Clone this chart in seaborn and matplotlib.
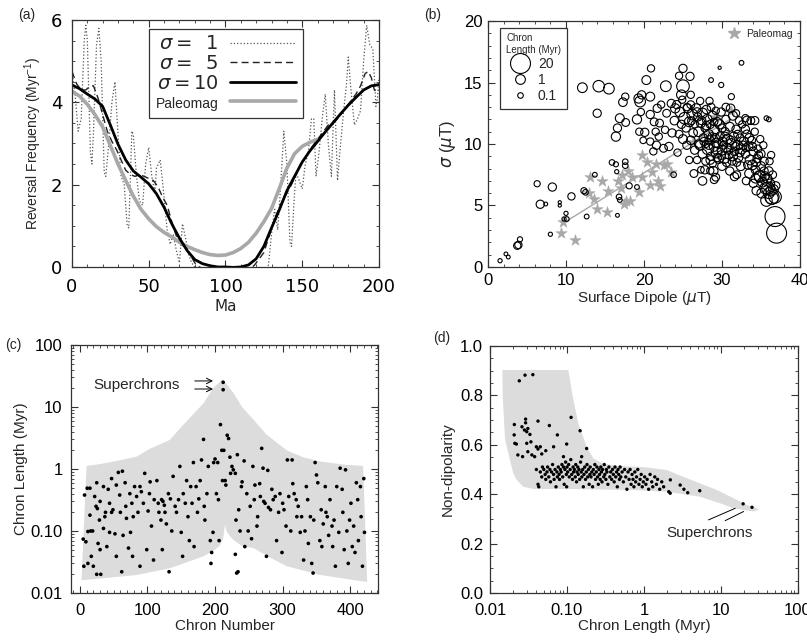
import matplotlib
matplotlib.use("Agg")
import numpy as np
import pandas as pd
import matplotlib.pyplot as plt
import seaborn as sns
from matplotlib.lines import Line2D
from matplotlib.ticker import MultipleLocator, FixedLocator, FixedFormatter, LogLocator, NullFormatter, FormatStrFormatter

# ---------------- panel (a): reversal frequency vs age
ma_s1 = [0, 2, 4, 6, 8, 9, 10, 12, 13, 14, 16, 17.5, 19, 21, 22, 24, 26, 28, 30, 32,
         34, 36, 37, 39, 40, 42, 44, 46, 48, 50, 52, 54, 55, 57.5, 60, 62, 64, 66, 68, 70,
         72, 74, 76, 78, 80, 82, 125, 128, 130, 132, 134, 136, 138, 140, 142, 143, 145, 146,
         148, 150, 152, 154, 156, 157.5, 159, 161, 163, 165, 167, 169, 171, 173, 175, 177,
         179, 180, 182, 184, 186, 188, 190, 192, 194, 196, 198, 199, 200]
rf_s1 = [4.75, 4.2, 3.3, 3.6, 5.5, 5.87, 5.5, 2.8, 2.5, 3.3, 5.4, 5.8, 5.0, 2.3, 2.2, 3.0, 4.0, 4.5, 3.2, 2.2,
         2.0, 1.0, 0.95, 3.3, 3.2, 2.2, 1.6, 1.5, 2.5, 2.9, 2.2, 1.8, 2.4, 2.6, 1.7, 0.9, 0.55, 0.8, 0.4, 0.1,
         1.05, 0.7, 0.3, 0.1, 0.0, -0.2, -0.2, 0.05, 0.8, 1.4, 0.9, 2.0, 3.3, 2.5, 0.6, 0.5, 1.8, 2.3,
         2.1, 1.9, 2.5, 2.8, 3.6, 3.6, 2.2, 2.8, 3.6, 4.2, 3.0, 2.2, 4.3, 2.1, 3.0, 3.8,
         4.5, 5.1, 4.2, 3.45, 3.6, 3.8, 5.0, 5.87, 5.4, 5.3, 3.9, 4.1, 4.6]

ma_s5 = [0, 3, 6, 9, 12, 14, 17, 20, 23, 26, 29, 32, 35, 38, 41, 44, 47, 50, 53, 56,
         59, 62, 65, 68, 71, 74, 77, 80, 83, 86, 116, 119, 122, 125, 128, 131, 134, 137, 140, 143,
         146, 149, 152, 155, 158, 161, 164, 167, 170, 173, 176, 179, 182, 185, 188, 191, 193, 195, 197, 199, 200]
rf_s5 = [4.75, 4.45, 4.3, 4.3, 4.4, 4.4, 4.1, 3.7, 3.3, 3.05, 2.85, 2.6, 2.35, 2.25, 2.2, 2.25, 2.2, 2.15, 2.1, 1.95,
         1.7, 1.5, 1.1, 0.75, 0.55, 0.45, 0.3, 0.1, 0.0, -0.05, -0.05, 0.05, 0.2, 0.35, 0.7, 1.05, 1.35, 1.6, 1.8, 2.0,
         2.25, 2.5, 2.65, 2.85, 3.0, 3.15, 3.3, 3.45, 3.5, 3.6, 3.75, 3.9, 4.05, 4.2, 4.4, 4.7, 4.75, 4.6, 4.3, 4.25, 4.3]

ma_s10 = list(range(0, 201, 5))
rf_s10 = [4.42, 4.33, 4.2, 4.08, 3.9, 3.45, 2.98, 2.6, 2.33, 2.18, 2.02, 1.78, 1.45, 1.05, 0.7, 0.4, 0.18, 0.08, 0.03, 0.0,
          0.0, -0.01, 0.0, 0.05, 0.2, 0.5, 0.95, 1.38, 1.85, 2.2, 2.55, 2.82, 3.05, 3.28, 3.5, 3.72, 3.93, 4.12, 4.3, 4.4, 4.43]

ma_pal = list(range(0, 161, 5))
rf_pal = [4.27, 4.15, 3.95, 3.7, 3.4, 2.95, 2.5, 2.1, 1.72, 1.4, 1.17, 0.98, 0.84, 0.73, 0.6, 0.5, 0.42, 0.35, 0.3, 0.28,
          0.29, 0.35, 0.45, 0.6, 0.82, 1.1, 1.42, 1.9, 2.4, 2.75, 2.93, 3.03, 3.1]

# ---------------- panel (b): sigma vs surface dipole
b_x = [12.1, 14.2, 15.5, 14.0, 17.6, 17.3, 19.3, 19.5, 19.7, 19.6, 16.9, 17.65, 16.6, 16.4, 19.1, 19.4, 19.9,
       15.9, 16.4, 17.6, 17.6, 13.7, 16.5, 12.3, 12.5, 18.1, 19.1, 16.8, 16.9, 16.6, 10.7, 8.25, 6.3, 6.7, 7.4,
       9.2, 9.2, 10.0, 10.1, 9.75, 12.65, 8.0, 3.9, 3.75, 4.1, 2.3, 2.6, 1.55,
       20.9, 25.0, 32.5, 29.7, 28.6, 29.9, 24.5, 25.9, 22.8, 20.3, 20.8, 25.0, 24.8, 31.2, 35.7, 34.2, 33.2,
       20.8, 22.0, 22.7, 21.5, 20.1, 20.8, 22.5, 21.2, 21.6, 23.8, 27.3, 28.5, 29.0, 31.9, 31.6,
       24.2, 24.6, 24.9, 25.2, 25.4, 25.6, 25.8, 26.0, 26.2, 26.3, 26.5, 26.7, 26.9, 27.0, 27.2, 27.3, 27.5,
       27.6, 27.8, 28.0, 28.1, 28.3, 28.5, 28.6, 28.8, 29.0, 29.2, 29.4, 25.0, 25.5, 24.5, 23.9, 24.0, 23.5,
       23.6, 22.9, 22.2, 21.7, 21.3, 21.9, 23.2, 24.3,
       26.5, 26.8, 27.2, 27.5, 27.7, 27.9, 28.2, 28.4, 28.6, 28.8, 29.0, 29.1, 29.3, 29.5, 29.6, 29.8, 30.0,
       30.1, 30.3, 30.4, 30.6, 30.7, 30.9, 31.0, 31.2, 31.3, 31.5, 31.6, 31.8, 32.0, 32.1, 32.3, 32.5, 32.6,
       32.8, 33.0, 33.2, 33.4, 33.6, 33.8, 34.0, 34.2, 28.0, 29.7, 30.5, 31.4, 32.2, 33.0, 29.9, 31.1, 27.0,
       26.0, 28.9, 27.8, 30.0, 31.0, 32.4, 25.8, 26.4, 27.5, 29.2,
       33.5, 33.9, 34.3, 34.5, 34.8, 35.0, 35.2, 35.4, 35.6, 35.8, 36.0, 36.2, 36.4, 36.6, 36.8, 35.0, 34.6,
       35.3, 33.9, 36.1, 36.5, 34.0, 35.7, 36.9, 35.1, 34.4, 33.1, 36.3, 34.9, 36.0, 33.7,
       28.3, 28.7, 29.2, 29.4, 29.9, 30.2, 30.4, 30.8, 31.1, 31.4, 31.7, 32.0, 32.3, 32.7, 33.1, 33.5, 30.0,
       29.0, 27.4, 26.1, 26.8, 25.5, 24.8, 27.9, 28.5, 30.6, 31.9, 33.3, 34.4, 34.7, 33.0, 31.8, 30.5, 28.4,
       26.0, 35.4, 36.0, 34.3, 35.5, 36.3,
       36.8, 37.0, 36.4, 35.9, 35.7, 34.9]
b_y = [14.58, 14.7, 14.5, 12.5, 13.85, 13.4, 13.7, 13.45, 14.0, 12.6, 12.1, 11.75, 11.3, 10.6, 12.0, 11.0, 10.3,
       8.5, 8.35, 8.56, 8.24, 7.5, 7.75, 6.2, 6.07, 6.6, 6.5, 5.7, 5.45, 4.2, 5.74, 6.5, 6.77, 5.1, 5.12,
       5.26, 5.0, 4.36, 3.9, 3.9, 4.1, 2.66, 1.79, 1.73, 2.25, 1.06, 0.81, 0.51,
       16.15, 16.15, 16.6, 16.2, 15.2, 14.8, 15.55, 15.5, 14.7, 15.2, 13.85, 14.7, 14.0, 13.85, 12.1, 11.9, 11.9,
       12.4, 11.7, 11.15, 11.0, 10.95, 10.2, 9.65, 9.4, 9.9, 7.5, 7.9, 7.83, 7.1, 7.5, 7.35,
       13.2, 12.6, 13.6, 12.1, 11.3, 12.9, 11.8, 13.2, 12.4, 10.9, 11.6, 12.9, 12.2, 11.0, 13.5, 11.7, 12.5,
       10.5, 11.3, 12.8, 12.0, 10.8, 11.6, 13.0, 12.3, 11.1, 12.7, 11.8, 10.4, 9.9, 10.8, 11.9, 12.9, 13.3,
       10.9, 12.5, 13.2, 12.9, 11.8, 10.6, 9.8, 9.3,
       9.5, 8.7, 9.9, 9.2, 10.2, 8.6, 9.6, 10.3, 9.0, 8.4, 9.8, 10.5, 9.3, 10.0, 8.8, 10.7, 9.5,
       10.2, 8.9, 11.0, 9.7, 10.4, 9.1, 11.4, 10.0, 8.6, 10.6, 9.4, 11.2, 9.9, 8.9, 10.5, 9.6, 11.6,
       10.2, 9.2, 10.8, 9.8, 8.7, 10.3, 9.4, 11.0, 11.5, 11.6, 12.0, 12.3, 11.9, 12.1, 12.6, 12.9, 10.0,
       10.3, 7.8, 7.9, 8.2, 7.8, 8.2, 8.7, 7.6, 7.0, 7.3,
       7.6, 8.3, 7.9, 8.8, 7.4, 8.2, 6.9, 7.8, 6.4, 7.2, 6.0, 6.8, 5.6, 6.3, 5.7, 9.2, 9.6,
       9.9, 9.8, 8.6, 7.5, 6.8, 5.4, 6.6, 6.0, 6.2, 7.0, 9.1, 10.4, 12.0, 11.9,
       9.9, 10.6, 10.1, 8.9, 9.1, 9.9, 10.6, 9.5, 10.3, 9.0, 9.8, 10.8, 9.3, 9.9, 9.7, 10.5, 11.3,
       11.8, 11.9, 11.9, 12.6, 13.0, 11.6, 10.0, 8.7, 8.5, 8.5, 8.3, 8.5, 9.1, 11.2, 12.5, 13.0, 13.5,
       14.0, 8.6, 7.8, 7.2, 7.4, 6.2,
       4.1, 2.75, 5.7, 6.4, 7.1, 7.35]
b_len = [1, 2, 1.5, 0.5, 0.3, 0.6, 0.8, 1.5, 0.5, 0.3, 0.7, 0.4, 0.5, 0.8, 0.8, 0.3, 0.2,
         0.1, 0.07, 0.1, 0.1, 0.05, 0.03, 0.15, 0.1, 0.15, 0.05, 0.1, 0.05, 0.02, 0.3, 0.5, 0.15, 0.5, 0.02,
         0.01, 0.01, 0.03, 0.05, 0.03, 0.05, 0.03, 0.3, 0.3, 0.07, 0.02, 0.02, 0.03,
         0.3, 0.5, 0.05, 0.01, 0.05, 0.07, 0.3, 0.5, 1.5, 0.7, 0.7, 3, 1, 0.15, 0.05, 0.5, 0.7,
         0.5, 0.4, 0.3, 0.3, 0.5, 0.3, 0.4, 0.3, 0.5, 0.1, 0.2, 0.3, 0.4, 0.4, 0.5,
         0.5, 1, 0.3, 2, 0.5, 0.7, 1, 0.4, 1.5, 0.6, 0.3, 0.8, 0.5, 1, 0.3, 0.7, 1.2,
         0.5, 0.4, 0.6, 1, 0.8, 0.5, 0.4, 0.7, 1.5, 0.3, 0.6, 0.7, 0.5, 0.4, 0.6, 0.8, 0.5,
         0.5, 0.4, 0.3, 0.5, 0.4, 0.3, 0.5, 0.3,
         0.5, 0.3, 1, 0.7, 0.5, 0.4, 2, 0.8, 0.5, 0.3, 1, 0.7, 1.5, 0.5, 0.8, 0.4, 1,
         0.6, 2, 0.5, 0.8, 1, 0.5, 0.7, 1.5, 0.4, 0.8, 0.6, 0.5, 1, 0.7, 0.4, 1.2, 0.3,
         0.8, 0.6, 0.5, 0.7, 1, 0.4, 0.6, 0.3, 0.6, 0.8, 0.5, 0.7, 0.4, 0.3, 0.5, 0.6, 0.5,
         0.6, 0.8, 0.5, 0.6, 0.5, 0.7, 0.3, 0.4, 0.6, 0.4,
         0.8, 1, 0.6, 0.5, 1.5, 0.7, 1, 0.5, 2, 0.8, 1.5, 0.6, 3, 1, 3, 0.5, 0.4,
         0.3, 0.5, 0.3, 0.4, 0.5, 2, 0.5, 1, 0.6, 0.4, 0.3, 0.3, 0.05, 0.4,
         0.5, 0.4, 0.8, 0.5, 0.6, 0.4, 0.7, 0.5, 0.6, 0.8, 0.5, 0.4, 0.6, 0.5, 0.4, 0.6, 0.5,
         0.3, 0.5, 0.4, 0.6, 0.3, 0.5, 0.3, 0.6, 0.5, 0.4, 0.5, 0.6, 0.4, 0.5, 0.3, 0.4, 0.3,
         0.3, 0.5, 0.6, 0.8, 0.6, 1.2,
         20, 20, 5, 3, 2, 2]

star_x = [9.4, 9.6, 11.2, 13.1, 12.9, 13.6, 14.0, 14.6, 15.2, 15.4, 16.7, 17.1, 17.2, 17.4, 17.7, 17.9,
          18.2, 18.5, 19.4, 19.7, 19.7, 20.4, 20.8, 21.0, 21.6, 21.8, 22.0, 22.6, 22.9, 23.4, 26.3, 29.1, 31.2]
star_y = [2.8, 3.66, 2.2, 7.3, 6.0, 5.5, 4.7, 7.0, 4.5, 6.2, 7.0, 6.4, 7.5, 5.1, 5.4, 7.8,
          5.4, 7.3, 6.1, 7.3, 9.1, 8.5, 6.7, 7.75, 8.4, 7.0, 6.6, 8.3, 8.4, 7.7, 10.2, 12.2, 12.7]
fit_x = [10.0, 31.0]
fit_y = [3.7, 12.0]

legend_len = [20, 1, 0.1]

# ---------------- panel (c): chron length vs chron number
c_chron = [5, 9, 6, 7, 11, 15, 12, 16, 19, 15, 17, 12, 20, 22, 25, 24, 26, 30, 29, 27,
           25, 31, 30, 35, 37, 35, 38, 40, 42, 44, 47, 44, 47, 49, 52, 54, 54, 57, 59, 60,
           63, 64, 62, 67, 68, 69, 72, 74, 77, 75, 78, 79, 81, 84, 86, 89, 91, 89,
           94, 96, 99, 101, 103, 104, 106, 109, 110, 114, 116, 117, 120, 121, 122, 123, 125, 126,
           128, 131, 132, 134, 136, 138, 141, 143, 146, 148, 150, 152, 153, 156, 158, 160, 162, 164,
           166, 168, 169, 172, 174, 176, 178, 180, 183, 184, 185, 188,
           190, 193, 194, 195, 197, 198, 200, 202, 204, 205, 206, 208, 210, 211, 212, 212, 213, 215,
           216, 218, 220, 222, 223, 225, 227, 230, 231, 233, 235, 232, 234, 230, 237, 239, 240, 243, 244,
           247, 249, 252, 254, 256, 258, 259, 262, 263, 266, 267, 269, 271, 272, 274, 276, 278, 279,
           282, 284, 286, 289, 291, 294, 296, 299, 300, 302, 305, 307, 309, 312, 314, 315, 317, 320,
           321, 323, 326, 328, 331, 333, 335, 337, 338, 341, 343, 345, 346, 348, 350, 352, 355, 357,
           358, 360, 363, 364, 366, 368, 370, 373, 374, 376, 378, 380, 383, 385, 388, 389, 391, 393,
           395, 397, 399, 401, 403, 405, 407, 409, 411, 412, 415, 416, 418, 420, 421]
c_len = [0.074, 0.067, 0.027, 0.38, 0.49, 0.49, 0.098, 0.10, 0.10, 0.18, 0.039, 0.030, 0.027, 0.36, 0.60, 0.25, 0.23, 0.30, 0.15, 0.063,
         0.020, 0.020, 0.050, 0.52, 0.17, 0.11, 0.20, 0.056, 0.47, 0.28, 0.20, 0.095, 0.70, 0.22, 0.09, 0.039, 0.55, 0.88, 0.38, 0.20,
         0.92, 0.085, 0.022, 0.60, 0.25, 0.16, 0.053, 0.40, 0.28, 0.095, 0.039, 0.17, 0.52, 0.36, 0.20, 0.52, 0.43, 0.027,
         0.28, 0.85, 0.05, 0.21, 0.40, 0.62, 0.12, 0.034, 0.32, 0.65, 0.28, 0.20, 0.15, 0.32, 0.05, 0.30, 0.26, 0.20,
         0.13, 0.40, 0.022, 0.33, 0.10, 0.76, 0.25, 0.20, 0.32, 1.1, 0.095, 0.039, 0.40, 0.28, 0.65, 0.17, 0.07, 0.52,
         0.28, 1.27, 0.056, 0.52, 0.20, 0.33, 0.65, 1.4, 3.0, 0.25, 0.15, 0.40,
         1.1, 0.07, 0.03, 0.045, 0.095, 1.27, 1.45, 0.40, 1.27, 0.32, 0.07, 5.2, 2.0, 0.65, 25, 19, 2.0, 0.65,
         0.55, 3.5, 3.1, 1.55, 0.85, 1.1, 0.97, 0.85, 0.15, 1.7, 0.22, 0.021, 0.022, 0.042, 0.10, 0.52, 0.62, 1.35, 0.056,
         0.40, 0.10, 0.25, 0.075, 1.1, 0.32, 0.55, 0.12, 0.17, 0.58, 0.36, 2.15, 1.03, 0.30, 0.28, 0.039, 0.95, 0.24,
         0.22, 0.47, 0.32, 0.36, 0.07, 0.20, 0.40, 0.045, 0.28, 0.22, 0.12, 1.4, 0.36, 0.10, 1.4, 0.58, 0.40, 0.32,
         0.17, 0.25, 0.095, 0.17, 0.034, 0.10, 0.52, 0.32, 0.063, 0.17, 0.03, 0.021, 0.15, 1.27, 0.80, 0.60, 0.07, 0.22,
         0.056, 0.13, 0.52, 0.20, 0.17, 0.085, 0.32, 0.12, 0.056, 0.15, 0.027, 0.52, 0.095, 1.03, 0.47, 0.20, 0.05, 0.97,
         0.10, 0.03, 0.15, 0.28, 0.056, 0.12, 0.045, 0.60, 0.32, 0.07, 0.52, 0.17, 0.027, 0.70, 0.095]

c_up_x = [10, 30, 55, 84, 103, 133, 152, 183, 197, 211, 227, 240, 257, 276, 306, 330, 356, 390, 419]
c_up_y = [1.12, 1.2, 1.35, 1.58, 2.1, 2.94, 5.0, 11.5, 20, 28, 17, 10, 6.2, 3.6, 2.0, 1.55, 1.32, 1.18, 1.12]
c_lo_x = [2.5, 84, 133, 183, 200, 207, 212, 214, 215, 217, 221, 227, 240, 257, 280, 306, 356, 425]
c_lo_y = [0.016, 0.0195, 0.025, 0.039, 0.05, 0.058, 0.075, 0.11, 0.125, 0.1, 0.085, 0.072, 0.057, 0.053, 0.038, 0.027, 0.0195, 0.015]

# ---------------- panel (d): non-dipolarity vs chron length
d_len = [0.024, 0.0285, 0.036, 0.0207, 0.0206, 0.021, 0.022, 0.023, 0.0265, 0.026, 0.028, 0.029, 0.029, 0.030,
         0.031, 0.033, 0.030, 0.031, 0.034, 0.035, 0.038, 0.040, 0.042, 0.042, 0.045, 0.047, 0.053, 0.059,
         0.067, 0.075, 0.090, 0.099, 0.113, 0.148, 0.155, 0.18,
         0.040, 0.042, 0.043, 0.045, 0.047, 0.048, 0.050, 0.052, 0.053, 0.055, 0.056, 0.058, 0.060, 0.061, 0.063,
         0.065, 0.067, 0.068, 0.07, 0.072, 0.074, 0.075, 0.077, 0.079, 0.08, 0.082, 0.084, 0.086, 0.088, 0.09,
         0.092, 0.094, 0.096, 0.098, 0.099,
         0.10, 0.102, 0.105, 0.107, 0.11, 0.112, 0.115, 0.118, 0.12, 0.122, 0.125, 0.128, 0.13, 0.133, 0.135,
         0.138, 0.14, 0.143, 0.146, 0.15, 0.153, 0.156, 0.16, 0.163, 0.166, 0.17, 0.174, 0.178, 0.182, 0.186,
         0.19, 0.194, 0.198,
         0.20, 0.205, 0.21, 0.215, 0.22, 0.225, 0.23, 0.235, 0.24, 0.245, 0.25, 0.255, 0.26, 0.265, 0.27,
         0.275, 0.28, 0.285, 0.29, 0.30, 0.305, 0.31, 0.32, 0.325, 0.33, 0.34, 0.35, 0.36, 0.37, 0.38, 0.39,
         0.40, 0.41, 0.42, 0.43, 0.44, 0.45, 0.46, 0.47, 0.48, 0.49,
         0.50, 0.52, 0.54, 0.56, 0.58, 0.60, 0.62, 0.64, 0.66, 0.68, 0.70, 0.72, 0.74, 0.76, 0.78, 0.80,
         0.83, 0.86, 0.89, 0.92, 0.95, 0.98,
         1.02, 1.06, 1.1, 1.15, 1.2, 1.26, 1.3, 1.38, 1.45, 1.5, 1.6, 1.7, 1.8,
         2.19, 2.1, 2.2, 2.95, 3.3, 3.7, 5.3, 19.4, 25.3]
d_nd = [0.859, 0.882, 0.884, 0.682, 0.64, 0.606, 0.603, 0.559, 0.552, 0.673, 0.66, 0.704, 0.689, 0.653,
        0.666, 0.642, 0.606, 0.572, 0.612, 0.559, 0.552, 0.592, 0.583, 0.696, 0.592, 0.563, 0.576, 0.678,
        0.592, 0.64, 0.552, 0.603, 0.711, 0.657, 0.552, 0.585,
        0.50, 0.44, 0.43, 0.49, 0.47, 0.51, 0.50, 0.48, 0.46, 0.49, 0.51, 0.47, 0.50, 0.45, 0.49,
        0.52, 0.48, 0.46, 0.50, 0.43, 0.49, 0.47, 0.51, 0.48, 0.46, 0.50, 0.49, 0.52, 0.47, 0.51,
        0.44, 0.50, 0.53, 0.48, 0.43,
        0.51, 0.49, 0.52, 0.47, 0.50, 0.54, 0.48, 0.46, 0.51, 0.49, 0.50, 0.47, 0.52, 0.45, 0.49,
        0.51, 0.48, 0.50, 0.46, 0.53, 0.49, 0.47, 0.50, 0.43, 0.48, 0.51, 0.46, 0.49, 0.52, 0.47,
        0.50, 0.44, 0.48,
        0.51, 0.47, 0.49, 0.43, 0.50, 0.48, 0.52, 0.46, 0.49, 0.51, 0.47, 0.44, 0.50, 0.48, 0.46,
        0.51, 0.49, 0.45, 0.50, 0.47, 0.52, 0.48, 0.46, 0.50, 0.49, 0.44, 0.51, 0.47, 0.49, 0.46, 0.50,
        0.48, 0.45, 0.51, 0.47, 0.49, 0.43, 0.50, 0.48, 0.46, 0.51,
        0.47, 0.49, 0.45, 0.50, 0.47, 0.42, 0.49, 0.46, 0.50, 0.44, 0.48, 0.46, 0.43, 0.49, 0.45, 0.47,
        0.50, 0.44, 0.46, 0.48, 0.43, 0.45,
        0.47, 0.44, 0.46, 0.42, 0.48, 0.45, 0.43, 0.47, 0.44, 0.46, 0.42, 0.45, 0.43,
        0.404, 0.41, 0.458, 0.437, 0.42, 0.406, 0.414, 0.361, 0.347]

d_env_x = [0.0145, 0.104, 0.118, 0.14, 0.18, 0.22, 0.3, 0.44, 0.98, 1.98, 3.26, 8.85, 21.7, 29.3, 31,
           26.5, 14.5, 9.8, 5.3, 1.98, 0.73, 0.099, 0.037, 0.027, 0.022, 0.020, 0.0157, 0.0146]
d_env_y = [0.903, 0.903, 0.80, 0.687, 0.592, 0.545, 0.523, 0.515, 0.51, 0.498, 0.47, 0.417, 0.357, 0.343, 0.337,
           0.33, 0.343, 0.363, 0.39, 0.41, 0.417, 0.421, 0.421, 0.43, 0.46, 0.485, 0.62, 0.80]

# ---------------- style
sns.set_style("ticks")
plt.rcParams["font.family"] = ["Liberation Sans", "DejaVu Sans"]
plt.rcParams["mathtext.fontset"] = "dejavusans"
plt.rcParams["axes.linewidth"] = 0.9
plt.rcParams["axes.edgecolor"] = "#333333"

FILL = "#dcdcdc"
GREY = "#a8a8a8"

fig = plt.figure(figsize=(8.07, 6.41), dpi=100)
ax_a = fig.add_axes([0.0892, 0.5835, 0.3804, 0.3853])
ax_b = fig.add_axes([0.6047, 0.5835, 0.3866, 0.3837])
ax_c = fig.add_axes([0.0880, 0.0749, 0.3804, 0.3869])
ax_d = fig.add_axes([0.6072, 0.0749, 0.3816, 0.3853])


def style_ticks(ax, labelsize, xpad, ypad):
    ax.tick_params(which="both", direction="in", top=True, right=True, colors="#333333")
    ax.tick_params(which="major", length=5, width=0.8, labelsize=labelsize, labelcolor="black")
    ax.tick_params(which="minor", length=2.5, width=0.6)
    ax.tick_params(axis="x", which="major", pad=xpad)
    ax.tick_params(axis="y", which="major", pad=ypad)
    for s in ax.spines.values():
        s.set_visible(True)


# ---- (a)
sns.lineplot(x=ma_s1, y=rf_s1, ax=ax_a, color="#555555", lw=0.9, linestyle=":", sort=False, estimator=None)
sns.lineplot(x=ma_s5, y=rf_s5, ax=ax_a, color="#222222", lw=1.0, linestyle=(0, (5, 3)), sort=False, estimator=None)
sns.lineplot(x=ma_pal, y=rf_pal, ax=ax_a, color=GREY, lw=2.6, sort=False, estimator=None)
sns.lineplot(x=ma_s10, y=rf_s10, ax=ax_a, color="black", lw=2.0, sort=False, estimator=None)
ax_a.set_xlim(0, 200)
ax_a.set_ylim(0, 6)
ax_a.xaxis.set_major_locator(MultipleLocator(50))
ax_a.xaxis.set_minor_locator(MultipleLocator(10))
ax_a.yaxis.set_major_locator(MultipleLocator(2))
ax_a.yaxis.set_minor_locator(MultipleLocator(0.5))
style_ticks(ax_a, 13, 8, 7)
for t in ax_a.get_xticklabels() + ax_a.get_yticklabels():
    t.set_family("DejaVu Sans")
ax_a.set_xlabel("Ma", fontsize=11, labelpad=2, family="DejaVu Sans")
ax_a.set_ylabel(r"Reversal Frequency (Myr$^{\mathregular{-1}}$)", fontsize=10, labelpad=5)
lines = ax_a.get_lines()
handles = [lines[0], lines[1], lines[3], lines[2]]
labels = [r"$\sigma =\;\;1$", r"$\sigma =\;\;5$", r"$\sigma = 10$", "Paleomag"]
leg = ax_a.legend(handles, labels, loc="upper left", bbox_to_anchor=(0.25, 0.965), markerfirst=False,
                  handlelength=3.4, handletextpad=0.6, labelspacing=0.08, borderpad=0.35,
                  fontsize=14, frameon=True, fancybox=False, framealpha=1, borderaxespad=0)
leg.get_frame().set_edgecolor("#333333")
leg.get_frame().set_linewidth(0.9)
leg.get_texts()[3].set_fontsize(10)

# ---- (b)
b_df = pd.DataFrame({"dipole": b_x, "sigma": b_y, "length": b_len})
b_df["area"] = (7.0 * b_df["length"] ** 0.24) ** 2
sns.lineplot(x=fit_x, y=fit_y, ax=ax_b, color=GREY, lw=1.0)
sns.scatterplot(data=pd.DataFrame({"x": star_x, "y": star_y}), x="x", y="y", ax=ax_b, marker="*",
                s=75, color=GREY, edgecolor=GREY, linewidth=0.3, zorder=3)
sns.scatterplot(data=b_df, x="dipole", y="sigma", ax=ax_b, s=b_df["area"].values, marker="o",
                facecolor="none", edgecolor="black", linewidth=0.8, zorder=4)
ax_b.set_xlim(0, 40)
ax_b.set_ylim(0, 20)
ax_b.xaxis.set_major_locator(MultipleLocator(10))
ax_b.xaxis.set_minor_locator(MultipleLocator(2))
ax_b.yaxis.set_major_locator(MultipleLocator(5))
ax_b.yaxis.set_minor_locator(MultipleLocator(1))
style_ticks(ax_b, 12, 4, 4)
ax_b.set_xlabel(r"Surface Dipole ($\mu$T)", fontsize=11, labelpad=1)
ax_b.set_ylabel(r"$\sigma$ ($\mu$T)", fontsize=12, labelpad=4)
size_handles = [Line2D([], [], ls="none", marker="o", mfc="none", mec="black", mew=0.8,
                       markersize=7.0 * v ** 0.24) for v in legend_len]
leg_b = ax_b.legend(size_handles, [f"{v:g}" for v in legend_len], title="Chron\nLength (Myr)",
                    loc="upper left", bbox_to_anchor=(0.04, 0.972), fontsize=10, title_fontsize=7,
                    alignment="left", frameon=True, fancybox=False, framealpha=1, borderaxespad=0,
                    handletextpad=0.3, labelspacing=0.15, borderpad=0.4)
leg_b.get_frame().set_edgecolor("#333333")
leg_b.get_frame().set_linewidth(0.9)
ax_b.add_artist(leg_b)
star_handle = Line2D([], [], ls="none", marker="*", color=GREY, markersize=9)
ax_b.legend([star_handle], ["Paleomag"], loc="upper right", bbox_to_anchor=(0.99, 0.985),
            frameon=False, fontsize=7.5, handletextpad=0.2, borderaxespad=0)

# ---- (c)
ax_c.fill(c_up_x + c_lo_x[::-1], c_up_y + c_lo_y[::-1], color=FILL, lw=0, zorder=1)
sns.scatterplot(x=c_chron, y=c_len, ax=ax_c, color="black", s=7, edgecolor="none", zorder=3)
ax_c.set_yscale("log")
ax_c.set_xlim(-13, 441)
ax_c.set_ylim(0.01, 100)
ax_c.xaxis.set_major_locator(MultipleLocator(100))
ax_c.xaxis.set_minor_locator(MultipleLocator(10))
dec = [0.01, 0.1, 1, 10, 100]
dec_lab = ["0.01", "0.10", "1", "10", "100"]
ax_c.yaxis.set_major_locator(FixedLocator(dec))
ax_c.yaxis.set_major_formatter(FixedFormatter(dec_lab))
ax_c.yaxis.set_minor_locator(LogLocator(base=10, subs=np.arange(2, 10)))
ax_c.yaxis.set_minor_formatter(NullFormatter())
style_ticks(ax_c, 12, 7, 6)
ax_c.set_xlabel("Chron Number", fontsize=11, labelpad=1)
ax_c.set_ylabel("Chron Length (Myr)", fontsize=11, labelpad=2)
ax_c.text(20, 22.5, "Superchrons", fontsize=11, va="center", ha="left")
for ys in [26.3, 19.5]:
    ax_c.annotate("", xy=(197, ys), xytext=(170, ys),
                  arrowprops=dict(arrowstyle="->", lw=0.7, color="black", shrinkA=0, shrinkB=0))

# ---- (d)
ax_d.fill(d_env_x, d_env_y, color=FILL, lw=0, zorder=1)
sns.scatterplot(x=d_len, y=d_nd, ax=ax_d, color="black", s=6, edgecolor="none", zorder=3)
ax_d.set_xscale("log")
ax_d.set_xlim(0.01, 100)
ax_d.set_ylim(0, 1)
ax_d.xaxis.set_major_locator(FixedLocator(dec))
ax_d.xaxis.set_major_formatter(FixedFormatter(dec_lab))
ax_d.xaxis.set_minor_locator(LogLocator(base=10, subs=np.arange(2, 10)))
ax_d.xaxis.set_minor_formatter(NullFormatter())
ax_d.yaxis.set_major_locator(MultipleLocator(0.2))
ax_d.yaxis.set_major_formatter(FormatStrFormatter("%.1f"))
ax_d.yaxis.set_minor_locator(MultipleLocator(0.05))
style_ticks(ax_d, 12, 7, 5)
ax_d.set_xlabel("Chron Length (Myr)", fontsize=11, labelpad=1)
ax_d.set_ylabel("Non-dipolarity", fontsize=11, labelpad=4)
ax_d.text(1.98, 0.243, "Superchrons", fontsize=11, va="center", ha="left")
ax_d.annotate("", xy=(15.3, 0.343), xytext=(6.9, 0.296),
              arrowprops=dict(arrowstyle="-", lw=0.7, color="black", shrinkA=0, shrinkB=0))
ax_d.annotate("", xy=(19.7, 0.33), xytext=(11.35, 0.293),
              arrowprops=dict(arrowstyle="-", lw=0.7, color="black", shrinkA=0, shrinkB=0))

# ---- panel letters
for lab, (px, py) in {"(a)": (27, 15), "(b)": (433, 15), "(c)": (13, 345), "(d)": (442, 338)}.items():
    fig.text(px / 807, 1 - py / 641, lab, fontsize=10, ha="center", va="center")

fig.savefig("out.png", dpi=100)
